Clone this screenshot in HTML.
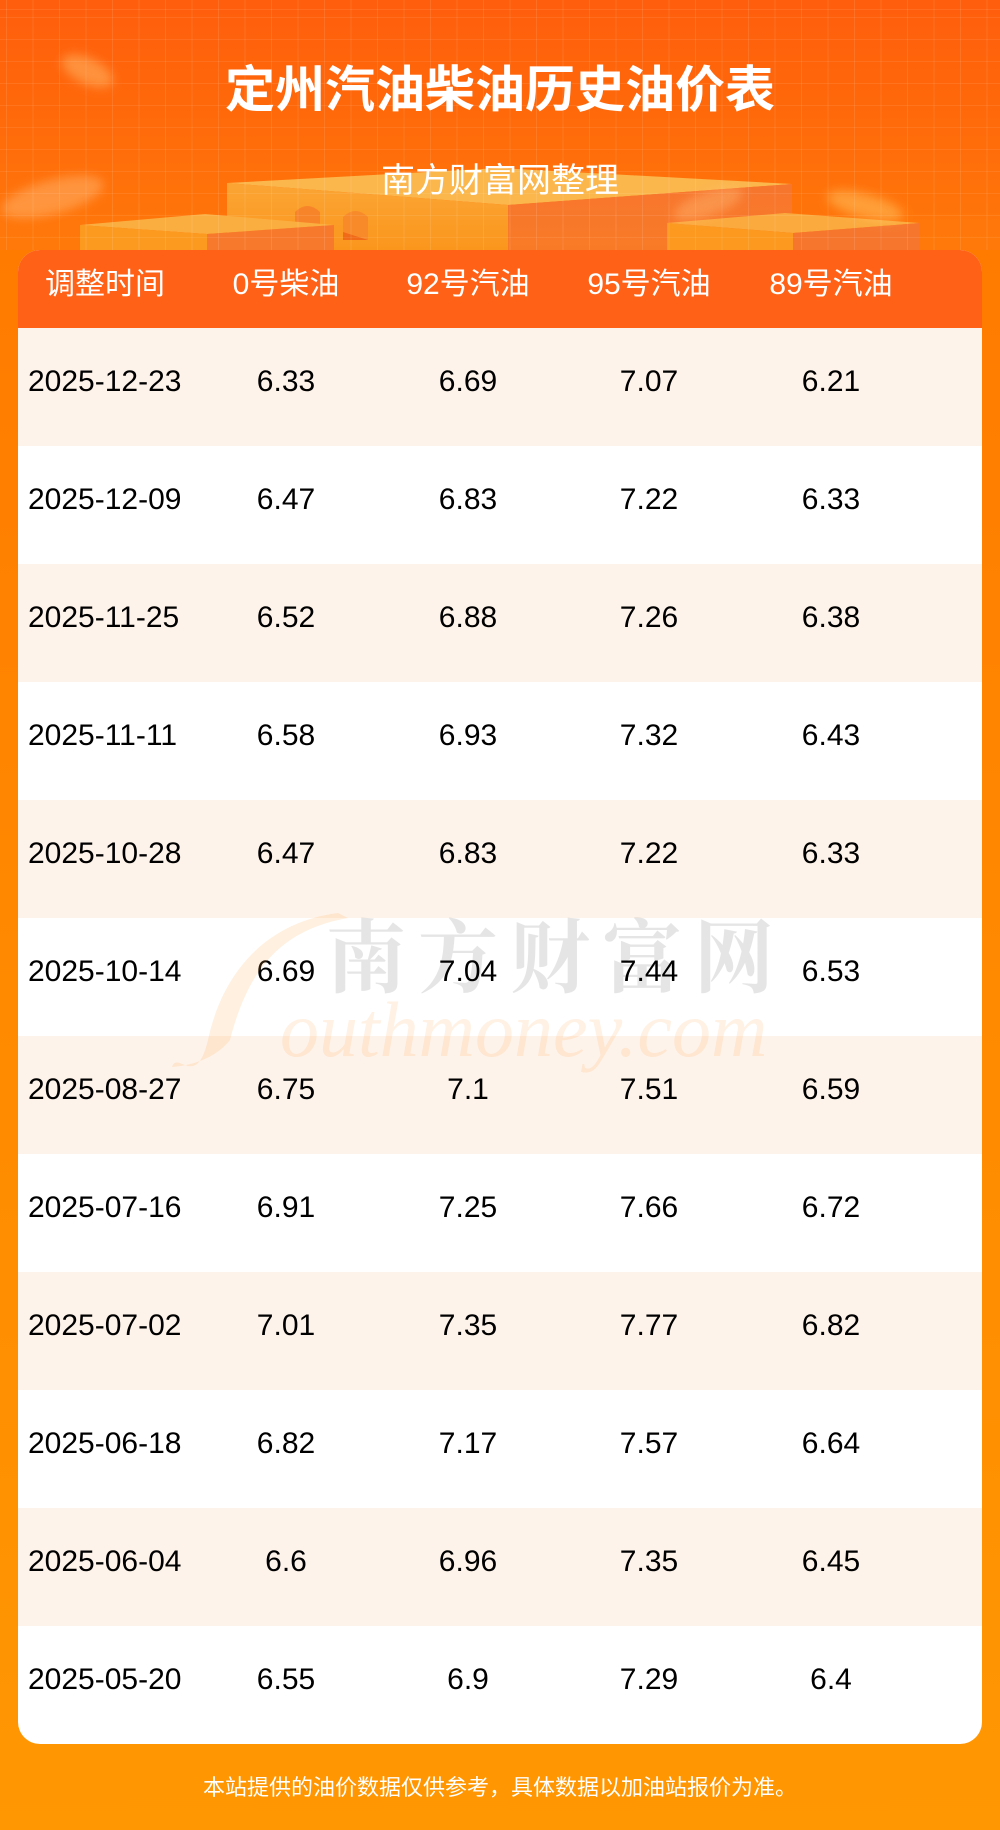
<!DOCTYPE html>
<html><head><meta charset="utf-8">
<style>
*{margin:0;padding:0;box-sizing:border-box}
html,body{width:1000px;height:1830px;overflow:hidden}
body{position:relative;background:linear-gradient(180deg,#ff7a02 0px,#ff7b00 250px,#ff8a00 1000px,#ff9702 1830px);font-family:"Liberation Sans","Noto Sans CJK SC",sans-serif}
.banner{position:absolute;left:0;top:0;width:1000px;height:250px;background:linear-gradient(180deg,#ff5e0c 0%,#ff6a0a 50%,#ff790a 100%);overflow:hidden}
.grid{position:absolute;left:0;top:0;width:1000px;height:250px;
background-image:repeating-linear-gradient(90deg,rgba(255,255,255,0.10) 0 1px,transparent 1px 26.5px),repeating-linear-gradient(0deg,rgba(255,255,255,0.08) 0 1px,transparent 1px 22px);background-position:6px 0,0 10px}
.title{position:absolute;left:0;top:36px;width:1000px;text-align:center;line-height:100px;font-size:50px;font-weight:700;color:#fff;font-family:"Noto Sans CJK SC",sans-serif;letter-spacing:0}
.sub{position:absolute;left:0;top:148px;width:1000px;text-align:center;line-height:60px;font-size:34px;color:#fff;font-family:"Noto Sans CJK SC",sans-serif}
.card{position:absolute;left:18px;top:250px;width:964px;height:1494px;border-radius:22px;overflow:hidden;background:#fff}
.head{position:absolute;left:0;top:0;width:964px;height:78px;background:#ff6117}
.head span{position:absolute;top:0;width:182px;text-align:center;line-height:69px;font-size:30px;color:#fff}
.row{position:absolute;left:0;width:964px;height:118px}
.row.c{background:#fef3ea}
.row span{position:absolute;top:0;width:182px;text-align:center;line-height:108px;font-size:30px;color:#000}
.row span.c1{left:10px;text-align:left;width:200px}
.c1{left:-4px}.c2{left:177px}.c3{left:359px}.c4{left:540px}.c5{left:722px}
.foot{position:absolute;left:0;top:1766px;width:1000px;text-align:center;line-height:40px;font-size:22px;color:#fff;font-family:"Noto Sans CJK SC",sans-serif}
.wm1{position:absolute;left:308px;top:652px;font-size:80px;line-height:100px;letter-spacing:12px;color:rgba(0,0,0,0.1);font-family:"Noto Serif CJK SC",serif;font-weight:700;white-space:nowrap}
.wm2{position:absolute;left:262px;top:730px;font-size:78px;line-height:100px;color:rgba(255,150,40,0.13);font-family:"Liberation Serif",serif;font-style:italic;white-space:nowrap}
.coin{position:absolute;border-radius:50%;filter:blur(5px)}
</style></head><body>
<div class="banner">
<svg width="1000" height="250" style="position:absolute;left:0;top:0">
 <defs>
  <linearGradient id="lf" x1="0" y1="0" x2="0" y2="1"><stop offset="0" stop-color="#fba535"/><stop offset="1" stop-color="#fb961c"/></linearGradient>
  <linearGradient id="rf" x1="0" y1="0" x2="0" y2="1"><stop offset="0" stop-color="#f7762f"/><stop offset="1" stop-color="#f97a26"/></linearGradient>
 </defs>
 <path d="M227,183 L500,168 L792,184 L508,205 Z" fill="#fbb64c"/>
 <path d="M227,183 L508,205 L508,250 L227,250 Z" fill="url(#lf)"/>
 <path d="M508,205 L792,184 L792,250 L508,250 Z" fill="url(#rf)"/>
 <path d="M295,250 L295,212 Q307.5,200 320,212 L320,250 Z" fill="#f8842a"/>
 <path d="M343,240 L343,217 Q355.5,205 368,217 L368,240 Z" fill="#f88a2a"/>
 <path d="M343,232 L368,240 L343,240 Z" fill="#f06a18"/>
 <path d="M80,225 L205,214 L334,225 L207,234 Z" fill="#fbae40"/>
 <path d="M80,225 L207,234 L207,250 L80,250 Z" fill="#fc9a20"/>
 <path d="M207,234 L334,225 L334,250 L207,250 Z" fill="#f77a2c"/>
 <path d="M667,223 L785,213 L920,223 L793,233 Z" fill="#fbaa3e"/>
 <path d="M667,223 L793,233 L793,250 L667,250 Z" fill="#fc991e"/>
 <path d="M793,233 L920,223 L920,250 L793,250 Z" fill="#f6762e"/>
</svg>
<div class="coin" style="left:60px;top:58px;width:55px;height:26px;background:rgba(255,190,110,0.5);transform:rotate(25deg)"></div>
<div class="coin" style="left:0px;top:180px;width:105px;height:34px;background:rgba(255,200,140,0.4);transform:rotate(-15deg)"></div>
<div class="coin" style="left:672px;top:192px;width:72px;height:24px;background:rgba(255,190,120,0.4);transform:rotate(-20deg)"></div>
<div class="coin" style="left:826px;top:194px;width:78px;height:24px;background:rgba(255,200,100,0.5);transform:rotate(15deg)"></div>
<div class="grid"></div>
</div>
<div class="title">定州汽油柴油历史油价表</div>
<div class="sub">南方财富网整理</div>

<div class="card">
 <div class="head"><span class="c1">调整时间</span><span class="c2">0号柴油</span><span class="c3">92号汽油</span><span class="c4">95号汽油</span><span class="c5">89号汽油</span></div>
 <div class="row c" style="top:78px"><span class="c1">2025-12-23</span><span class="c2">6.33</span><span class="c3">6.69</span><span class="c4">7.07</span><span class="c5">6.21</span></div>
 <div class="row" style="top:196px"><span class="c1">2025-12-09</span><span class="c2">6.47</span><span class="c3">6.83</span><span class="c4">7.22</span><span class="c5">6.33</span></div>
 <div class="row c" style="top:314px"><span class="c1">2025-11-25</span><span class="c2">6.52</span><span class="c3">6.88</span><span class="c4">7.26</span><span class="c5">6.38</span></div>
 <div class="row" style="top:432px"><span class="c1">2025-11-11</span><span class="c2">6.58</span><span class="c3">6.93</span><span class="c4">7.32</span><span class="c5">6.43</span></div>
 <div class="row c" style="top:550px"><span class="c1">2025-10-28</span><span class="c2">6.47</span><span class="c3">6.83</span><span class="c4">7.22</span><span class="c5">6.33</span></div>
 <div class="row" style="top:668px"><span class="c1">2025-10-14</span><span class="c2">6.69</span><span class="c3">7.04</span><span class="c4">7.44</span><span class="c5">6.53</span></div>
 <div class="row c" style="top:786px"><span class="c1">2025-08-27</span><span class="c2">6.75</span><span class="c3">7.1</span><span class="c4">7.51</span><span class="c5">6.59</span></div>
 <div class="row" style="top:904px"><span class="c1">2025-07-16</span><span class="c2">6.91</span><span class="c3">7.25</span><span class="c4">7.66</span><span class="c5">6.72</span></div>
 <div class="row c" style="top:1022px"><span class="c1">2025-07-02</span><span class="c2">7.01</span><span class="c3">7.35</span><span class="c4">7.77</span><span class="c5">6.82</span></div>
 <div class="row" style="top:1140px"><span class="c1">2025-06-18</span><span class="c2">6.82</span><span class="c3">7.17</span><span class="c4">7.57</span><span class="c5">6.64</span></div>
 <div class="row c" style="top:1258px"><span class="c1">2025-06-04</span><span class="c2">6.6</span><span class="c3">6.96</span><span class="c4">7.35</span><span class="c5">6.45</span></div>
 <div class="row" style="top:1376px"><span class="c1">2025-05-20</span><span class="c2">6.55</span><span class="c3">6.9</span><span class="c4">7.29</span><span class="c5">6.4</span></div>
 <svg width="964" height="1494" style="position:absolute;left:0;top:0;pointer-events:none">
  <path d="M320,663 C250,672 205,720 190,790 C178,840 160,800 154,817 C180,815 200,805 212,790 C230,720 262,680 330,668 Z" fill="rgba(255,160,60,0.16)"/>
 </svg>
 <div class="wm1">南方财富网</div>
 <div class="wm2">outhmoney.com</div>
</div>

<div class="foot">本站提供的油价数据仅供参考，具体数据以加油站报价为准。</div>
</body></html>
